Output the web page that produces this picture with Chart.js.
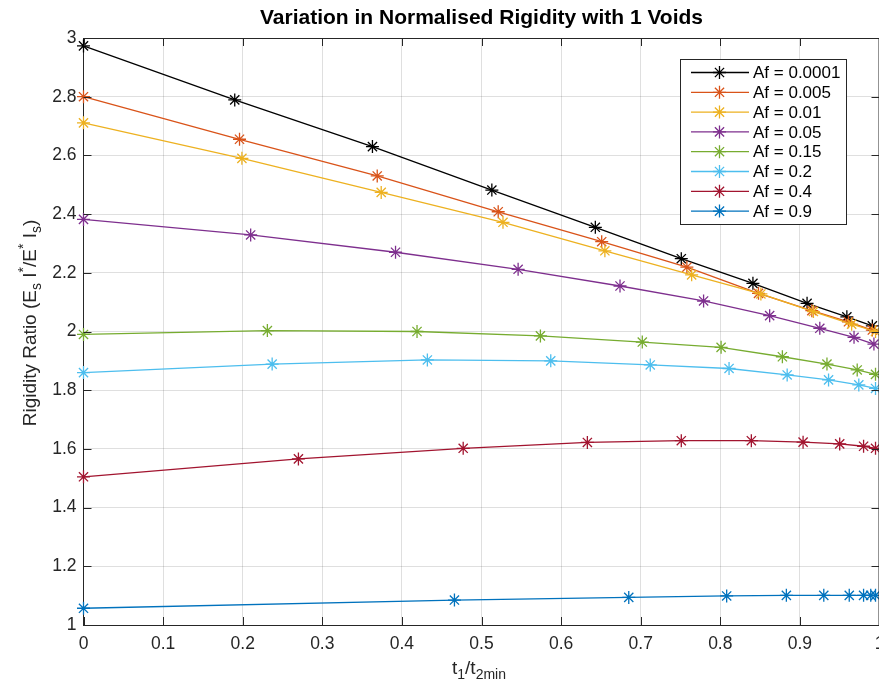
<!DOCTYPE html>
<html>
<head>
<meta charset="utf-8">
<script src="https://cdn.jsdelivr.net/npm/chart.js@4.4.0/dist/chart.umd.min.js"></script>
<style>
html, body { margin: 0; padding: 0; background: #fff; overflow: hidden; }
#wrap { width: 890px; height: 688px; }
</style>
</head>
<body>
<div id="wrap"><canvas id="rigidity-graph" width="890" height="688"></canvas></div>
<script>
// values
const afLabels = ["Af = 0.0001", "Af = 0.005", "Af = 0.01", "Af = 0.05", "Af = 0.15", "Af = 0.2", "Af = 0.4", "Af = 0.9"];
const colors = ["#000000", "#D95319", "#EDB120", "#7E2F8E", "#77AC30", "#4DBEEE", "#A2142F", "#0072BD"];

const xAf0001 = [0, 0.19, 0.363, 0.513, 0.643, 0.751, 0.841, 0.909, 0.959, 0.991];
const yAf0001 = [2.973, 2.789, 2.63, 2.482, 2.355, 2.248, 2.164, 2.096, 2.05, 2.019];
const xAf005 = [0, 0.196, 0.369, 0.521, 0.651, 0.758, 0.848, 0.915, 0.961, 0.991];
const yAf005 = [2.80, 2.655, 2.53, 2.408, 2.306, 2.219, 2.13, 2.071, 2.033, 2.005];
const xAf01 = [0, 0.199, 0.374, 0.527, 0.655, 0.764, 0.851, 0.917, 0.965, 0.995];
const yAf01 = [2.711, 2.59, 2.474, 2.372, 2.275, 2.193, 2.128, 2.068, 2.025, 2.0];
const xAf05 = [0, 0.21, 0.392, 0.546, 0.674, 0.779, 0.862, 0.925, 0.968, 0.993];
const yAf05 = [2.382, 2.329, 2.27, 2.212, 2.155, 2.104, 2.054, 2.011, 1.98, 1.957];
const xAf15 = [0, 0.231, 0.419, 0.574, 0.702, 0.801, 0.878, 0.934, 0.972, 0.995];
const yAf15 = [1.99, 2.003, 2.0, 1.985, 1.964, 1.946, 1.914, 1.889, 1.869, 1.854];
const xAf2 = [0, 0.237, 0.432, 0.587, 0.712, 0.811, 0.884, 0.936, 0.974, 0.995];
const yAf2 = [1.86, 1.889, 1.903, 1.9, 1.886, 1.874, 1.852, 1.835, 1.818, 1.806];
const xAf4 = [0, 0.27, 0.477, 0.633, 0.751, 0.839, 0.904, 0.95, 0.98, 0.995];
const yAf4 = [1.505, 1.566, 1.602, 1.622, 1.628, 1.628, 1.623, 1.617, 1.609, 1.602];
const xAf9 = [0, 0.466, 0.685, 0.808, 0.883, 0.93, 0.962, 0.98, 0.989, 0.995];
const yAf9 = [1.057, 1.085, 1.094, 1.099, 1.101, 1.101, 1.101, 1.101, 1.101, 1.101];

const xSeries = [xAf0001, xAf005, xAf01, xAf05, xAf15, xAf2, xAf4, xAf9];
const ySeries = [yAf0001, yAf005, yAf01, yAf05, yAf15, yAf2, yAf4, yAf9];

const FONT = '"Liberation Sans", Arial, Helvetica, sans-serif';
const INK = "#262626";

function pairs(xs, ys) {
	return xs.map((x, i) => ({ x: x, y: ys[i] }));
}

// draw text with sub / superscripts, centred on x
function richText(ctx, parts, cx, cy, rotate) {
	ctx.save();
	ctx.translate(cx, cy);
	if (rotate) ctx.rotate(-Math.PI / 2);
	ctx.textBaseline = "alphabetic";
	ctx.textAlign = "left";
	ctx.fillStyle = INK;
	let total = 0;
	parts.forEach(p => {
		ctx.font = (p.m ? 14 : 19) + "px " + FONT;
		p.w = ctx.measureText(p.t).width;
		total += p.w;
	});
	let x = -total / 2;
	parts.forEach(p => {
		ctx.font = (p.m ? 14 : 19) + "px " + FONT;
		let dy = p.m === "sub" ? 5 : p.m === "sup" ? -8 : 0;
		ctx.fillText(p.t, x, dy);
		x += p.w;
	});
	ctx.restore();
}

function asterisk(ctx, x, y, r) {
	const d = r * Math.SQRT1_2;
	ctx.beginPath();
	ctx.moveTo(x - r, y); ctx.lineTo(x + r, y);
	ctx.moveTo(x, y - r); ctx.lineTo(x, y + r);
	ctx.moveTo(x - d, y - d); ctx.lineTo(x + d, y + d);
	ctx.moveTo(x - d, y + d); ctx.lineTo(x + d, y - d);
	ctx.stroke();
}

const matlabLook = {
	id: "matlabLook",
	afterDatasetsDraw(chart) {
		const ctx = chart.ctx;
		const a = chart.chartArea;
		const xs = chart.scales.x, ys = chart.scales.y;
		ctx.save();
		ctx.strokeStyle = INK;
		ctx.lineWidth = 1;
		ctx.beginPath();
		ctx.moveTo(a.left, a.top + 0.5); ctx.lineTo(a.right, a.top + 0.5);
		ctx.moveTo(a.right - 0.5, a.top); ctx.lineTo(a.right - 0.5, a.bottom);
		xs.ticks.forEach(t => {
			const px = Math.round(xs.getPixelForValue(t.value)) + 0.5;
			ctx.moveTo(px, a.bottom); ctx.lineTo(px, a.bottom - 8);
			ctx.moveTo(px, a.top); ctx.lineTo(px, a.top + 8);
		});
		ys.ticks.forEach(t => {
			const py = Math.round(ys.getPixelForValue(t.value)) + 0.5;
			ctx.moveTo(a.left, py); ctx.lineTo(a.left + 8, py);
			ctx.moveTo(a.right, py); ctx.lineTo(a.right - 8, py);
		});
		ctx.stroke();
		ctx.restore();
	},
	afterDraw(chart) {
		const ctx = chart.ctx;
		const a = chart.chartArea;
		ctx.save();
		// title
		ctx.fillStyle = "#000";
		ctx.font = "bold 21px " + FONT;
		ctx.textAlign = "center";
		ctx.textBaseline = "middle";
		ctx.fillText("Variation in Normalised Rigidity with 1 Voids", (a.left + a.right) / 2, 18);
		ctx.restore();

		richText(ctx, [{ t: "t" }, { t: "1", m: "sub" }, { t: "/t" }, { t: "2min", m: "sub" }], 479, 674, false);
		richText(ctx, [
			{ t: "Rigidity Ratio (E" }, { t: "s", m: "sub" }, { t: " I" }, { t: "*", m: "sup" },
			{ t: "/E" }, { t: "*", m: "sup" }, { t: " I" }, { t: "s", m: "sub" }, { t: ")" }
		], 36, 323, true);

		// legend
		ctx.save();
		ctx.fillStyle = "#fff";
		ctx.fillRect(680.5, 59.5, 166, 165);
		ctx.strokeStyle = INK;
		ctx.lineWidth = 1;
		ctx.strokeRect(680.5, 59.5, 166, 165);
		ctx.font = "17px " + FONT;
		ctx.textBaseline = "middle";
		ctx.textAlign = "left";
		chart.data.datasets.forEach((ds, i) => {
			const y = 72.5 + i * 19.8;
			ctx.strokeStyle = ds.borderColor;
			ctx.lineWidth = 1.3;
			ctx.beginPath();
			ctx.moveTo(691, y); ctx.lineTo(749, y);
			ctx.stroke();
			asterisk(ctx, 719.5, y, 6.5);
			ctx.fillStyle = "#000";
			ctx.fillText(ds.label, 753, y + 1);
		});
		ctx.restore();
	}
};

const ctx = document.getElementById("rigidity-graph");
new Chart(ctx, {
	type: "line",
	data: {
		datasets: afLabels.map((label, i) => ({
			label: label,
			data: pairs(xSeries[i], ySeries[i]),
			order: afLabels.length - i, // later series on top, like matlab
			clip: false,
			borderColor: colors[i],
			backgroundColor: colors[i],
			borderWidth: 1.3,
			pointStyle: "star",
			pointRadius: 6.5,
			pointBorderWidth: 1.3,
			tension: 0,
			fill: false
		}))
	},
	options: {
		responsive: false,
		animation: false,
		devicePixelRatio: 1,
		layout: { padding: { left: 0, top: 38, right: 10.5, bottom: 0 } },
		plugins: {
			legend: { display: false },
			title: { display: false },
			tooltip: { enabled: false }
		},
		scales: {
			x: {
				type: "linear",
				min: 0,
				max: 1,
				ticks: {
					stepSize: 0.1,
					autoSkip: false,
					maxRotation: 0,
					padding: 9,
					color: INK,
					font: { size: 17.5, family: FONT },
					callback: v => String(+v.toFixed(1))
				},
				grid: { color: "rgba(38,38,38,0.15)", drawTicks: false },
				border: { color: INK, width: 1 },
				afterFit: s => { s.height = 63; s.paddingLeft = 0; s.paddingRight = 0; }
			},
			y: {
				min: 1,
				max: 3,
				ticks: {
					stepSize: 0.2,
					padding: 7,
					color: INK,
					font: { size: 17.5, family: FONT },
					callback: v => String(+v.toFixed(1))
				},
				grid: { color: "rgba(38,38,38,0.15)", drawTicks: false },
				border: { color: INK, width: 1 },
				afterFit: s => { s.width = 83.5; }
			}
		}
	},
	plugins: [matlabLook]
});
</script>
</body>
</html>
